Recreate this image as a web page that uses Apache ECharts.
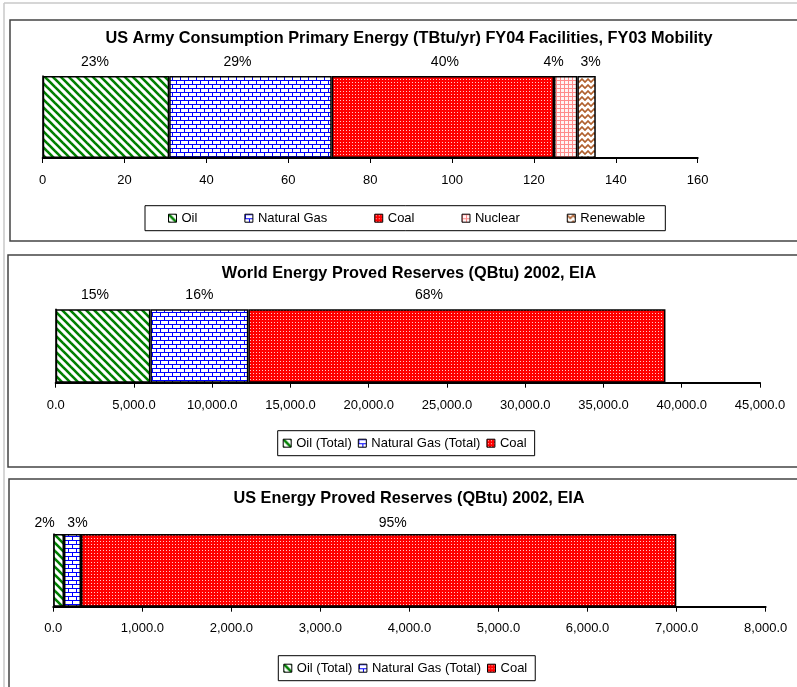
<!DOCTYPE html>
<html>
<head>
<meta charset="utf-8">
<script src="https://cdn.jsdelivr.net/npm/echarts@6/dist/echarts.min.js"></script>
<style>
html,body{margin:0;padding:0;background:#fff;}
#chart{width:797px;height:687px;}
</style>
</head>
<body>
<div id="chart"></div>
<script>
// ---------- DATA ----------
const armyTitle = 'US Army Consumption Primary Energy (TBtu/yr) FY04 Facilities, FY03 Mobility';
const armyCategories = ['Oil', 'Natural Gas', 'Coal', 'Nuclear', 'Renewable'];
const armyValues = [30.9, 39.7, 54.3, 5.7, 4.5];
const armyPctLabels = ['23%', '29%', '40%', '4%', '3%'];
const armyTicks = [0, 20, 40, 60, 80, 100, 120, 140, 160];

const worldTitle = 'World Energy Proved Reserves (QBtu) 2002, EIA';
const worldCategories = ['Oil (Total)', 'Natural Gas (Total)', 'Coal'];
const worldValues = [6050, 6260, 26650];
const worldPctLabels = ['15%', '16%', '68%'];
const worldTicks = [0, 5000, 10000, 15000, 20000, 25000, 30000, 35000, 40000, 45000];

const usTitle = 'US Energy Proved Reserves (QBtu) 2002, EIA';
const usCategories = ['Oil (Total)', 'Natural Gas (Total)', 'Coal'];
const usValues = [120, 191, 6686];
const usPctLabels = ['2%', '3%', '95%'];
const usTicks = [0, 1000, 2000, 3000, 4000, 5000, 6000, 7000, 8000];

// ---------- STYLE ----------
const FONT = '"Liberation Sans", Arial, sans-serif';

function makePattern(w, h, draw) {
  const c = document.createElement('canvas');
  c.width = w; c.height = h;
  const ctx = c.getContext('2d');
  draw(ctx, w, h);
  return { image: c, repeat: 'repeat' };
}
const patOil = makePattern(8, 8, (ctx) => {
  ctx.fillStyle = '#fff'; ctx.fillRect(0, 0, 8, 8);
  ctx.strokeStyle = '#008000'; ctx.lineWidth = 2.6;
  for (const k of [-8, 0, 8]) { ctx.beginPath(); ctx.moveTo(k - 1, -1); ctx.lineTo(k + 9, 9); ctx.stroke(); }
});
const patGas = makePattern(8, 8, (ctx) => {
  ctx.fillStyle = '#fff'; ctx.fillRect(0, 0, 8, 8);
  ctx.fillStyle = '#0000ff';
  ctx.fillRect(0, 0, 8, 1); ctx.fillRect(0, 4, 8, 1);
  ctx.fillRect(0, 0, 1, 4); ctx.fillRect(4, 4, 1, 4);
});
const patCoal = makePattern(3, 3, (ctx) => {
  ctx.fillStyle = '#ff0000'; ctx.fillRect(0, 0, 3, 3);
  ctx.fillStyle = '#ffc8c8'; ctx.fillRect(1, 1, 1, 1);
});
const patNuclear = makePattern(4, 4, (ctx) => {
  ctx.fillStyle = '#fff4f4'; ctx.fillRect(0, 0, 4, 4);
  ctx.fillStyle = '#ff8a8a';
  ctx.fillRect(0, 0, 4, 1); ctx.fillRect(0, 0, 1, 4);
});
const patRenew = makePattern(6, 6, (ctx) => {
  ctx.fillStyle = '#fff'; ctx.fillRect(0, 0, 6, 6);
  ctx.strokeStyle = '#b0602e'; ctx.lineWidth = 1.6;
  ctx.beginPath(); ctx.moveTo(-3, 4); ctx.lineTo(0, 1); ctx.lineTo(3, 4); ctx.lineTo(6, 1); ctx.lineTo(9, 4); ctx.stroke();
});
const patterns = { 'Oil': patOil, 'Natural Gas': patGas, 'Coal': patCoal, 'Nuclear': patNuclear, 'Renewable': patRenew,
  'Oil (Total)': patOil, 'Natural Gas (Total)': patGas };

const numFmt = v => v.toLocaleString('en-US', { minimumFractionDigits: 1, maximumFractionDigits: 1 });

const panels = [
  { title: armyTitle, cats: armyCategories, vals: armyValues, pct: armyPctLabels, ticks: armyTicks,
    fmt: v => String(v),
    grid: { left: 42.7, top: 76, width: 655, height: 82 },
    titleTop: 31, labelDist: 7, labelOffsets: [-11, -13, 2, -12, 4], tickMargin: 16,
    legend: { left: 145, top: 205.7, padding: [6, 20, 6, 23], itemGap: 47 } },
  { title: worldTitle, cats: worldCategories, vals: worldValues, pct: worldPctLabels, ticks: worldTicks,
    fmt: numFmt,
    grid: { left: 55.7, top: 309.3, width: 704.3, height: 73.4 },
    titleTop: 265.5, labelDist: 7, labelOffsets: [-8, 0, -28], tickMargin: 16,
    legend: { left: 277.7, top: 430.7, padding: [6, 8, 6, 5], itemGap: 6 } },
  { title: usTitle, cats: usCategories, vals: usValues, pct: usPctLabels, ticks: usTicks,
    fmt: numFmt,
    grid: { left: 53.3, top: 534, width: 712.3, height: 72.7 },
    titleTop: 491, labelDist: 4, labelOffsets: [-14, 5, 14], tickMargin: 15.5,
    legend: { left: 278.3, top: 655.7, padding: [6, 8, 6, 5], itemGap: 6 } }
];

const option = {
  backgroundColor: '#fff',
  animation: false,
  title: [], grid: [], xAxis: [], yAxis: [], legend: [], series: [],
  graphic: [
    { type: 'line', shape: { x1: 4, y1: 3, x2: 797, y2: 3 }, style: { stroke: '#c8c8c8', lineWidth: 1.5 } },
    { type: 'line', shape: { x1: 4, y1: 3, x2: 4, y2: 687 }, style: { stroke: '#c8c8c8', lineWidth: 1.5 } },
    { type: 'rect', shape: { x: 10, y: 20, width: 800, height: 221 }, style: { fill: 'none', stroke: '#444', lineWidth: 1.5 } },
    { type: 'rect', shape: { x: 8, y: 255, width: 800, height: 212 }, style: { fill: 'none', stroke: '#444', lineWidth: 1.5 } },
    { type: 'rect', shape: { x: 9, y: 479, width: 800, height: 250 }, style: { fill: 'none', stroke: '#444', lineWidth: 1.5 } }
  ]
};

panels.forEach((p, i) => {
  option.title.push({
    text: p.title, left: 409, top: p.titleTop, textAlign: 'center', padding: 0,
    textStyle: { fontFamily: FONT, fontSize: 16.3, fontWeight: 'bold', color: '#000' }
  });
  option.grid.push(Object.assign({ containLabel: false, outerBoundsMode: 'none' }, p.grid));
  const step = p.ticks[1] - p.ticks[0];
  option.xAxis.push({
    type: 'value', gridIndex: i, min: p.ticks[0], max: p.ticks[p.ticks.length - 1], interval: step,
    splitLine: { show: false },
    axisLine: { show: true, lineStyle: { color: '#000', width: 2 } },
    axisTick: { show: true, inside: false, length: 5, lineStyle: { color: '#000', width: 1 } },
    axisLabel: { show: true, interval: 0, margin: p.tickMargin, color: '#000', fontFamily: FONT, fontSize: 13, formatter: p.fmt,
      showMinLabel: true, showMaxLabel: true, hideOverlap: false }
  });
  option.yAxis.push({
    type: 'category', gridIndex: i, data: [''],
    axisLine: { show: true, lineStyle: { color: '#000', width: 1.5 } },
    axisTick: { show: false }, axisLabel: { show: false }, splitLine: { show: false }
  });
  option.legend.push({
    data: p.cats.slice(), left: p.legend.left, top: p.legend.top, padding: p.legend.padding,
    itemGap: p.legend.itemGap, orient: 'horizontal', icon: 'rect', itemWidth: 8, itemHeight: 8,
    borderColor: '#000', borderWidth: 1, backgroundColor: '#fff', selectedMode: false,
    itemStyle: { borderColor: '#000', borderWidth: 1 },
    textStyle: { fontFamily: FONT, fontSize: 13, color: '#000' }
  });
  p.cats.forEach((c, j) => {
    option.series.push({
      type: 'bar', name: c, xAxisIndex: i, yAxisIndex: i, stack: 'total' + i,
      barWidth: '100%', data: [p.vals[j]],
      itemStyle: { color: patterns[c], borderColor: '#000', borderWidth: 1.5 },
      label: { show: true, position: 'top', distance: p.labelDist, offset: [p.labelOffsets[j], 0],
        formatter: () => p.pct[j], fontFamily: FONT, fontSize: 14, color: '#000' },
      emphasis: { disabled: true }
    });
  });
});

const chart = echarts.init(document.getElementById('chart'), null, { renderer: 'canvas' });
chart.setOption(option);
</script>
</body>
</html>
